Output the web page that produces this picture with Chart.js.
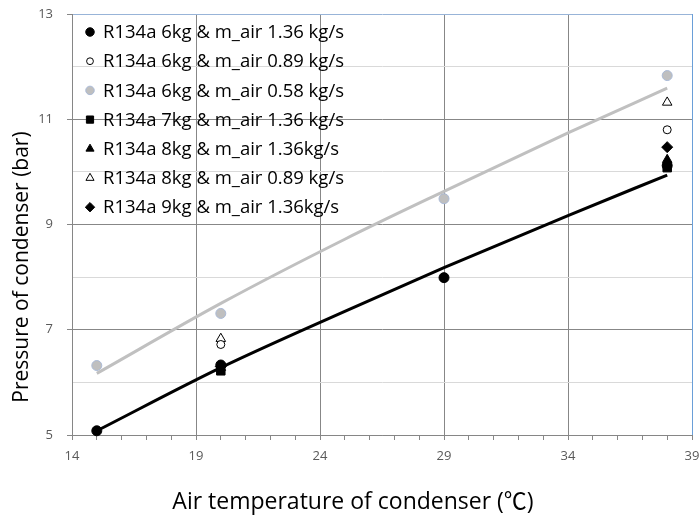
<!DOCTYPE html>
<html>
<head>
<meta charset="utf-8">
<script src="https://cdn.jsdelivr.net/npm/chart.js@4.4.1/dist/chart.umd.min.js"></script>
<style>
  html, body { margin: 0; padding: 0; background: #fff; }
  #wrap { width: 700px; height: 522px; }
</style>
</head>
<body>
<div id="wrap"><canvas id="chart" width="700" height="522"></canvas></div>
<script>
// ---- data ----
const tempsAll = [15, 20, 29, 38];
const tempsTwo = [20, 38];
const p6kgAir136 = [5.08, 6.33, 7.99, 10.12];
const p6kgAir089 = [6.72, 10.80];
const p6kgAir058 = [6.32, 7.31, 9.49, 11.83];
const p7kgAir136 = [6.22, 10.08];
const p8kgAir136 = [6.28, 10.23];
const p8kgAir089 = [6.83, 11.32];
const p9kgAir136 = [6.30, 10.47];

// trend lines
const trendTemps = [15, 20, 25, 29, 34, 38];
const trendAir136 = [5.08, 6.28, 7.35, 8.18, 9.17, 9.94];
const trendAir058 = [6.17, 7.50, 8.72, 9.63, 10.74, 11.59];

const xTicks = [14, 19, 24, 29, 34, 39];
const yTicks = [5, 7, 9, 11, 13];

const xTitle = 'Air temperature of condenser (\u2103)';
const yTitle = 'Pressure of condenser (bar)';

const FONT = '"Open Sans", "Noto Sans CJK SC", sans-serif';

function pts(xs, ys) {
  return xs.map((x, i) => ({ x, y: ys[i] }));
}

function series(label, xs, ys, style) {
  return Object.assign({
    label,
    data: pts(xs, ys),
    showLine: false,
    borderWidth: 1,
    clip: false,
  }, style);
}

const datasets = [
  series('R134a 6kg & m_air 1.36 kg/s', tempsAll, p6kgAir136,
    { pointStyle: 'circle', pointRadius: 5, backgroundColor: '#000', borderColor: '#000' }),
  series('R134a 6kg & m_air 0.89 kg/s', tempsTwo, p6kgAir089,
    { pointStyle: 'circle', pointRadius: 4, backgroundColor: '#fff', borderColor: '#000' }),
  series('R134a 6kg & m_air 0.58 kg/s', tempsAll, p6kgAir058,
    { pointStyle: 'circle', pointRadius: 5, backgroundColor: '#bfbfbf', borderColor: '#a9b9d6' }),
  series('R134a 7kg & m_air 1.36 kg/s', tempsTwo, p7kgAir136,
    { pointStyle: 'rect', pointRadius: 6, backgroundColor: '#000', borderColor: '#000' }),
  series('R134a 8kg & m_air 1.36kg/s', tempsTwo, p8kgAir136,
    { pointStyle: 'triangle', pointRadius: 5.5, backgroundColor: '#000', borderColor: '#000' }),
  series('R134a 8kg & m_air 0.89 kg/s', tempsTwo, p8kgAir089,
    { pointStyle: 'triangle', pointRadius: 5.5, backgroundColor: '#fff', borderColor: '#000' }),
  series('R134a 9kg & m_air 1.36kg/s', tempsTwo, p9kgAir136,
    { pointStyle: 'rectRot', pointRadius: 5.5, backgroundColor: '#000', borderColor: '#000' }),
  {
    label: 'trend 1.36',
    data: pts(trendTemps, trendAir136),
    showLine: true,
    borderColor: '#000',
    borderWidth: 3,
    pointRadius: 0,
    cubicInterpolationMode: 'monotone',
    legendHidden: true,
    order: -1,
  },
  {
    label: 'trend 0.58',
    data: pts(trendTemps, trendAir058),
    showLine: true,
    borderColor: '#c0c0c0',
    borderWidth: 3,
    pointRadius: 0,
    cubicInterpolationMode: 'monotone',
    legendHidden: true,
    order: -1,
  },
];

// legend inside the plot (top-left) and the two axis titles,
// which sit off-centre in the original
const overlay = {
  id: 'overlay',
  afterDraw(chart) {
    const { ctx, chartArea } = chart;
    const x0 = chartArea.left + 18;
    let y = chartArea.top + 18;
    ctx.save();
    ctx.font = '18.5px ' + FONT;
    ctx.textBaseline = 'middle';
    chart.data.datasets.forEach(ds => {
      if (ds.legendHidden) return;
      ctx.fillStyle = ds.backgroundColor;
      ctx.strokeStyle = ds.borderColor;
      ctx.lineWidth = 1;
      Chart.helpers.drawPoint(ctx, {
        pointStyle: ds.pointStyle,
        radius: ds.pointRadius * 0.85,
        rotation: 0,
        borderWidth: 1,
      }, x0, y);
      ctx.fillStyle = '#000';
      ctx.fillText(ds.label, x0 + 13, y + 1);
      y += 29.2;
    });

    ctx.fillStyle = '#000';
    ctx.textAlign = 'center';
    ctx.font = '23px ' + FONT;
    ctx.fillText(xTitle, 353, 502);
    ctx.font = '21px ' + FONT;
    ctx.translate(22, 267);
    ctx.rotate(-Math.PI / 2);
    ctx.fillText(yTitle, 0, 0);
    ctx.restore();
  },
};

new Chart(document.getElementById('chart'), {
  type: 'scatter',
  data: { datasets },
  options: {
    responsive: false,
    animation: false,
    layout: { padding: { top: 14, right: 8, left: 0, bottom: 0 } },
    plugins: { legend: { display: false }, tooltip: { enabled: false } },
    scales: {
      x: {
        type: 'linear',
        min: 14,
        max: 39,
        afterBuildTicks(scale) {
          const t = [];
          for (let v = 14; v <= 39; v++) t.push({ value: v });
          scale.ticks = t;
        },
        afterFit(scale) {
          scale.height = 87;
          scale.paddingLeft = 0;
          scale.paddingRight = 0;
        },
        border: { color: '#868686', width: 1 },
        grid: {
          color: c => {
            const v = c.tick.value;
            if (v === 39) return '#6a9fd8';
            return xTicks.includes(v) ? '#878787' : 'rgba(0,0,0,0)';
          },
          tickColor: '#878787',
          tickLength: 5,
        },
        ticks: {
          autoSkip: false,
          maxRotation: 0,
          padding: 8,
          color: '#595959',
          font: { family: FONT, size: 13 },
          callback: v => (xTicks.includes(v) ? String(v) : ''),
        },
      },
      y: {
        type: 'linear',
        min: 5,
        max: 13,
        afterBuildTicks(scale) {
          const t = [];
          for (let v = 5; v <= 13; v++) t.push({ value: v });
          scale.ticks = t;
        },
        afterFit(scale) {
          scale.width = 72;
          scale.paddingTop = 0;
          scale.paddingBottom = 0;
        },
        border: { color: '#868686', width: 1 },
        grid: {
          color: c => {
            const v = c.tick.value;
            if (v === 13) return '#98b4d8';
            return yTicks.includes(v) ? '#878787' : '#d9d9d9';
          },
          tickColor: c => (yTicks.includes(c.tick.value) ? '#878787' : 'rgba(0,0,0,0)'),
          tickLength: 5,
        },
        ticks: {
          autoSkip: false,
          padding: 14,
          color: '#595959',
          font: { family: FONT, size: 13 },
          callback: v => (yTicks.includes(v) ? String(v) : ''),
        },
      },
    },
  },
  plugins: [overlay],
});
</script>
</body>
</html>
